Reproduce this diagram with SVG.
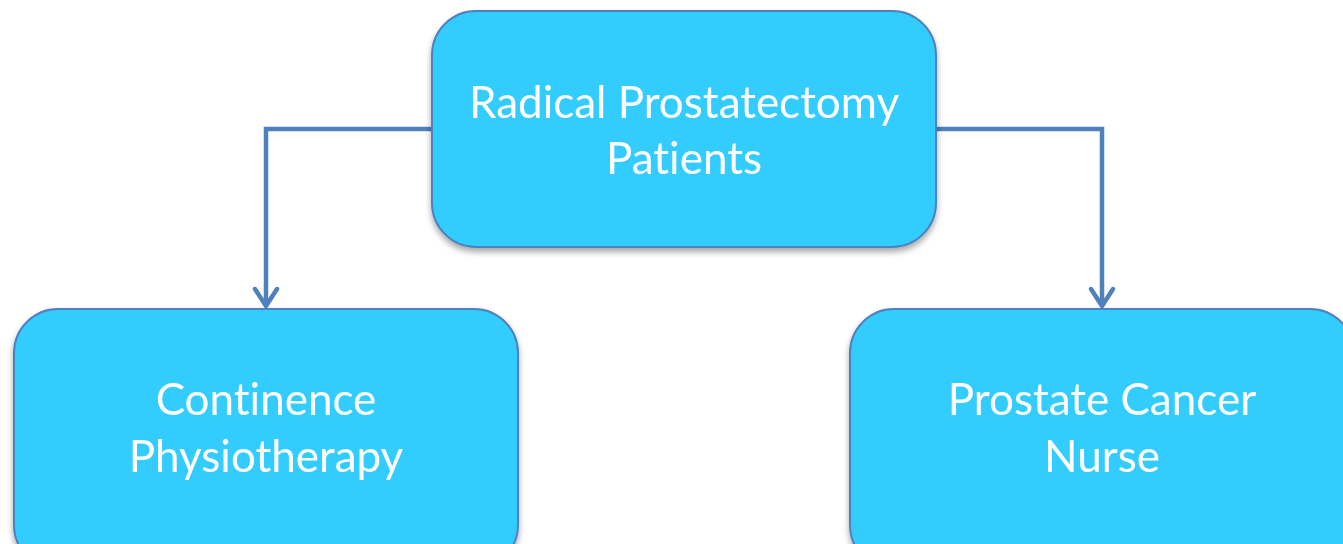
<svg xmlns="http://www.w3.org/2000/svg" width="1343" height="544" viewBox="0 0 1343 544">
<defs>
<filter id="sh" x="-10%" y="-10%" width="120%" height="130%">
<feGaussianBlur in="SourceAlpha" stdDeviation="3"/>
<feOffset dx="0" dy="4"/>
<feComponentTransfer><feFuncA type="linear" slope="0.35"/></feComponentTransfer>
<feMerge><feMergeNode/><feMergeNode in="SourceGraphic"/></feMerge>
</filter>
</defs>
<style>
.box{fill:#33CCFF;stroke:#4F81BD;stroke-width:2;}
.lbl{font-family:Lato,"Open Sans",sans-serif;font-size:44px;fill:#FFFFFF;text-anchor:middle;font-variant-ligatures:none;}
.con{fill:none;stroke:#4F81BD;stroke-width:4.5;stroke-linejoin:miter;}
.head{fill:none;stroke:#4F81BD;stroke-width:4.5;stroke-linecap:round;stroke-linejoin:round;}
</style>
<rect width="1343" height="544" fill="#FFFFFF"/>
<g id="connectors">
<path class="con" d="M432 129 H266 V306"/>
<path class="head" d="M255 289 L266 306 L277 289"/>
<path class="con" d="M936 129 H1102 V306"/>
<path class="head" d="M1091 289 L1102 306 L1113 289"/>
</g>
<g id="node-top" filter="url(#sh)">
<rect class="box" x="432" y="11" width="504" height="236" rx="44"/>
<text class="lbl" x="684" y="118">Radical Prostatectomy</text>
<text class="lbl" x="684" y="174">Patients</text>
</g>
<g id="node-left" filter="url(#sh)">
<rect class="box" x="14" y="309" width="504" height="260" rx="44"/>
<text class="lbl" x="266" y="415">Continence</text>
<text class="lbl" x="266" y="472">Physiotherapy</text>
</g>
<g id="node-right" filter="url(#sh)">
<rect class="box" x="850" y="309" width="504" height="260" rx="44"/>
<text class="lbl" x="1102" y="415">Prostate Cancer</text>
<text class="lbl" x="1102" y="472">Nurse</text>
</g>
</svg>
